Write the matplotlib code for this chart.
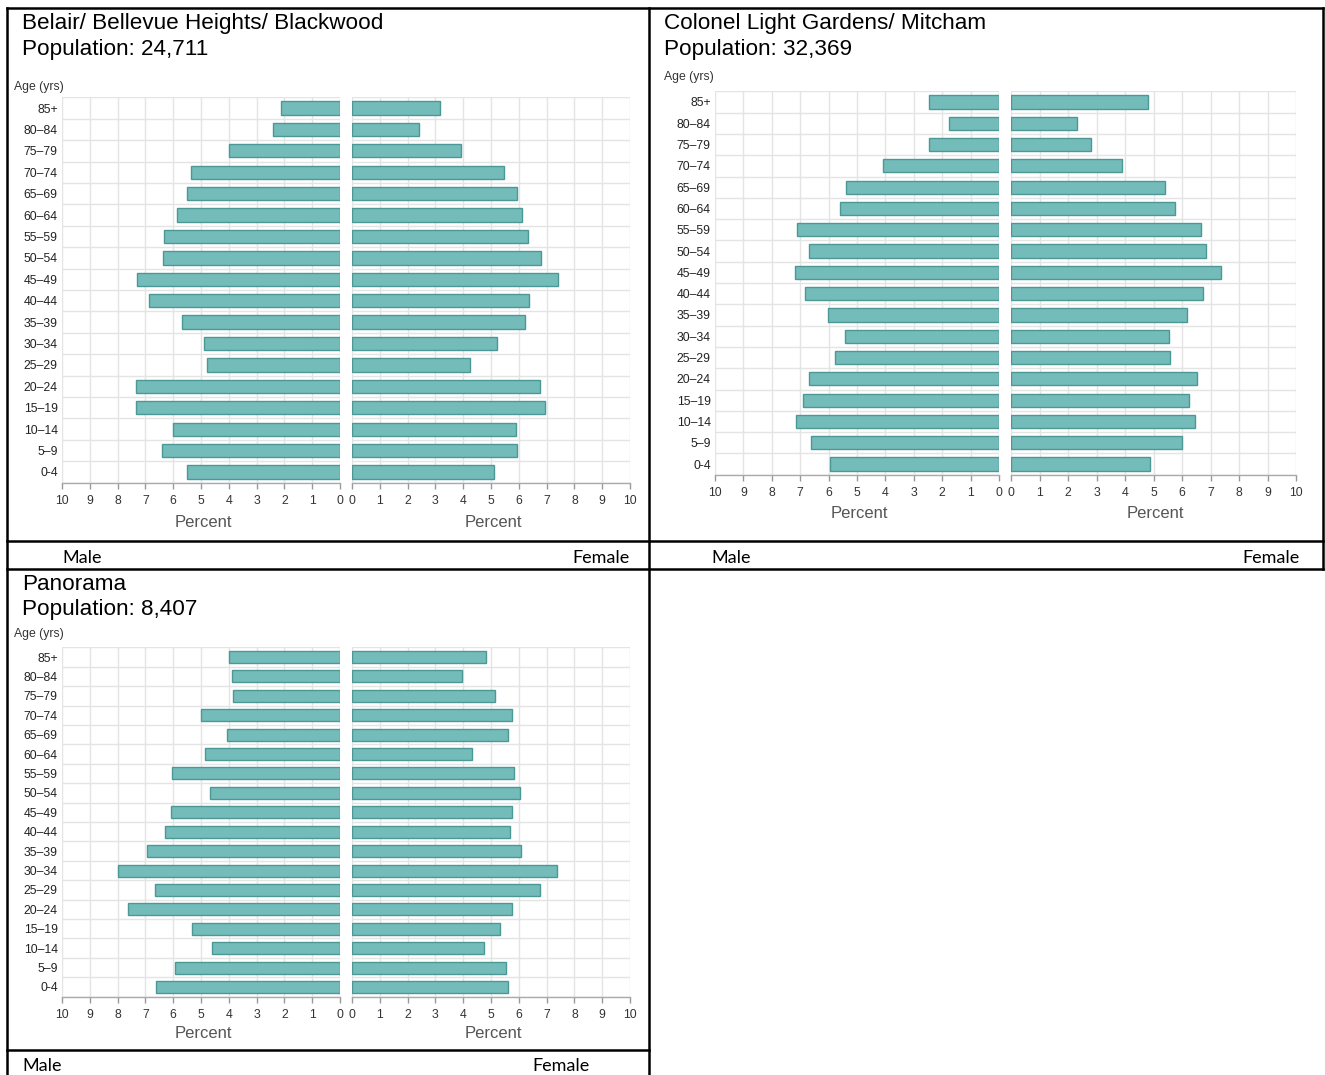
import numpy as np
import matplotlib
matplotlib.use("Agg")
import matplotlib.pyplot as plt
from matplotlib.lines import Line2D

# ---------------- data ----------------
age_groups = ['85+', '80–84', '75–79', '70–74', '65–69', '60–64', '55–59', '50–54',
              '45–49', '40–44', '35–39', '30–34', '25–29', '20–24', '15–19', '10–14',
              '5–9', '0-4']

belair_title = 'Belair/ Bellevue Heights/ Blackwood'
belair_pop = 'Population: 24,711'
belair_male = [2.12, 2.42, 3.99, 5.36, 5.52, 5.88, 6.33, 6.36, 7.30, 6.87, 5.67, 4.91,
               4.78, 7.34, 7.34, 6.00, 6.39, 5.52]
belair_female = [3.18, 2.40, 3.93, 5.47, 5.95, 6.13, 6.32, 6.80, 7.40, 6.35, 6.22, 5.22,
                 4.26, 6.78, 6.93, 5.91, 5.95, 5.10]

colonel_title = 'Colonel Light Gardens/ Mitcham'
colonel_pop = 'Population: 32,369'
colonel_male = [2.48, 1.75, 2.45, 4.07, 5.40, 5.61, 7.11, 6.70, 7.20, 6.84, 6.02, 5.43,
                5.78, 6.70, 6.90, 7.14, 6.63, 5.95]
colonel_female = [4.80, 2.30, 2.81, 3.90, 5.39, 5.76, 6.65, 6.84, 7.37, 6.72, 6.18, 5.56,
                  5.59, 6.54, 6.24, 6.44, 6.00, 4.88]

panorama_title = 'Panorama'
panorama_pop = 'Population: 8,407'
panorama_male = [4.01, 3.88, 3.84, 5.00, 4.07, 4.87, 6.06, 4.69, 6.09, 6.31, 6.93, 7.99,
                 6.66, 7.61, 5.34, 4.60, 5.93, 6.61]
panorama_female = [4.81, 3.97, 5.16, 5.77, 5.60, 4.31, 5.82, 6.05, 5.74, 5.69, 6.08, 7.37,
                   6.76, 5.77, 5.33, 4.75, 5.54, 5.60]

x_ticks = list(range(0, 11))
axis_label = 'Percent'
age_label = 'Age (yrs)'
male_label = 'Male'
female_label = 'Female'

# ---------------- layout ----------------
W, H = 1325, 1075
fig = plt.figure(figsize=(W / 100, H / 100), dpi=100)
fig.patch.set_facecolor('white')

def fx(x):
    return x / W

def fy(y):
    return 1 - y / H

def rect(x0, x1, ytop, ybot):
    return [fx(x0), fy(ybot), (x1 - x0) / W, (ybot - ytop) / H]

NARROW = ['Liberation Sans Narrow', 'Liberation Sans', 'DejaVu Sans']
TITLE_FONT = ['Liberation Sans', 'DejaVu Sans']
LEGEND_FONT = ['Lato', 'DejaVu Sans']

BAR_FACE = '#74bcb9'
BAR_EDGE = '#4b9895'
GRID = '#e4e4e4'

panels = [
    dict(title=belair_title, pop=belair_pop, male=belair_male, female=belair_female,
         tx=22, ty=23, py=49, ax_=14, ay=87, lx=(62, 340), rx=(352, 630),
         ytop=97.3, ybot=482.7, pcty=522, legy=557, malex=62, femalexr=630),
    dict(title=colonel_title, pop=colonel_pop, male=colonel_male, female=colonel_female,
         tx=664, ty=23, py=49, ax_=664, ay=77, lx=(715, 999), rx=(1011, 1296),
         ytop=91.3, ybot=474.7, pcty=514, legy=557, malex=711, femalexr=1300),
    dict(title=panorama_title, pop=panorama_pop, male=panorama_male, female=panorama_female,
         tx=22, ty=584, py=610, ax_=14, ay=634, lx=(62, 340), rx=(352, 630),
         ytop=647.3, ybot=996.7, pcty=1033, legy=1065, malex=22, femalexr=590),
]

n = len(age_groups)
ypos = np.arange(n)

def style_axes(ax, left):
    ax.set_ylim(n - 0.5, -0.5)
    if left:
        ax.set_xlim(10, 0)
    else:
        ax.set_xlim(0, 10)
    ax.set_xticks(x_ticks)
    ax.set_xticklabels([str(t) for t in x_ticks], family=NARROW, fontsize=8.8, color='#333333')
    ax.set_yticks(np.arange(-0.5, n, 1), minor=True)
    ax.set_yticks(ypos)
    if left:
        ax.set_yticklabels(age_groups, family=NARROW, fontsize=8.8, color='#222222')
    else:
        ax.set_yticklabels([])
    ax.tick_params(axis='y', which='both', length=0, pad=3)
    ax.tick_params(axis='x', which='major', length=4, width=1, color='#999999', pad=4.5)
    ax.grid(True, axis='x', which='major', color=GRID, lw=1)
    ax.grid(True, axis='y', which='minor', color=GRID, lw=1)
    ax.set_axisbelow(True)
    for s in ['top', 'left', 'right']:
        ax.spines[s].set_visible(False)
    ax.spines['bottom'].set_color('#aaaaaa')
    ax.spines['bottom'].set_linewidth(1)

for p in panels:
    axl = fig.add_axes(rect(p['lx'][0], p['lx'][1], p['ytop'], p['ybot']))
    axr = fig.add_axes(rect(p['rx'][0], p['rx'][1], p['ytop'], p['ybot']))
    axl.barh(ypos, p['male'], height=0.62, color=BAR_FACE, edgecolor=BAR_EDGE, lw=1)
    axr.barh(ypos, p['female'], height=0.62, color=BAR_FACE, edgecolor=BAR_EDGE, lw=1)
    style_axes(axl, True)
    style_axes(axr, False)

    fig.text(fx(p['tx']), fy(p['ty']), p['title'], family=TITLE_FONT, fontsize=16.2,
             ha='left', va='center', color='black')
    fig.text(fx(p['tx']), fy(p['py']), p['pop'], family=TITLE_FONT, fontsize=16.2,
             ha='left', va='center', color='black')
    fig.text(fx(p['ax_']), fy(p['ay']), age_label, family=NARROW, fontsize=8.8,
             ha='left', va='center', color='#333333')
    fig.text(fx((p['lx'][0] + p['lx'][1]) / 2 + 2), fy(p['pcty']), axis_label, family=NARROW,
             fontsize=12, ha='center', va='center', color='#555555')
    fig.text(fx((p['rx'][0] + p['rx'][1]) / 2 + 2), fy(p['pcty']), axis_label, family=NARROW,
             fontsize=12, ha='center', va='center', color='#555555')
    fig.text(fx(p['malex']), fy(p['legy'] + 1), male_label, family=LEGEND_FONT, fontsize=13,
             ha='left', va='center', color='black')
    fig.text(fx(p['femalexr']), fy(p['legy'] + 1), female_label, family=LEGEND_FONT, fontsize=13,
             ha='right', va='center', color='black')

# ---------------- borders ----------------
def hline(y, x0, x1):
    fig.add_artist(Line2D([fx(x0), fx(x1)], [fy(y), fy(y)], transform=fig.transFigure,
                          color='black', lw=1.8, solid_capstyle='projecting'))

def vline(x, y0, y1):
    fig.add_artist(Line2D([fx(x), fx(x)], [fy(y0), fy(y1)], transform=fig.transFigure,
                          color='black', lw=1.8, solid_capstyle='projecting'))

hline(8, 7, 1323)
hline(541, 7, 1323)
hline(569, 7, 1323)
hline(1050, 7, 649)
vline(7, 8, 1075)
vline(649, 8, 1075)
vline(1323, 8, 569)

fig.savefig('out.png', dpi=100, facecolor='white')
